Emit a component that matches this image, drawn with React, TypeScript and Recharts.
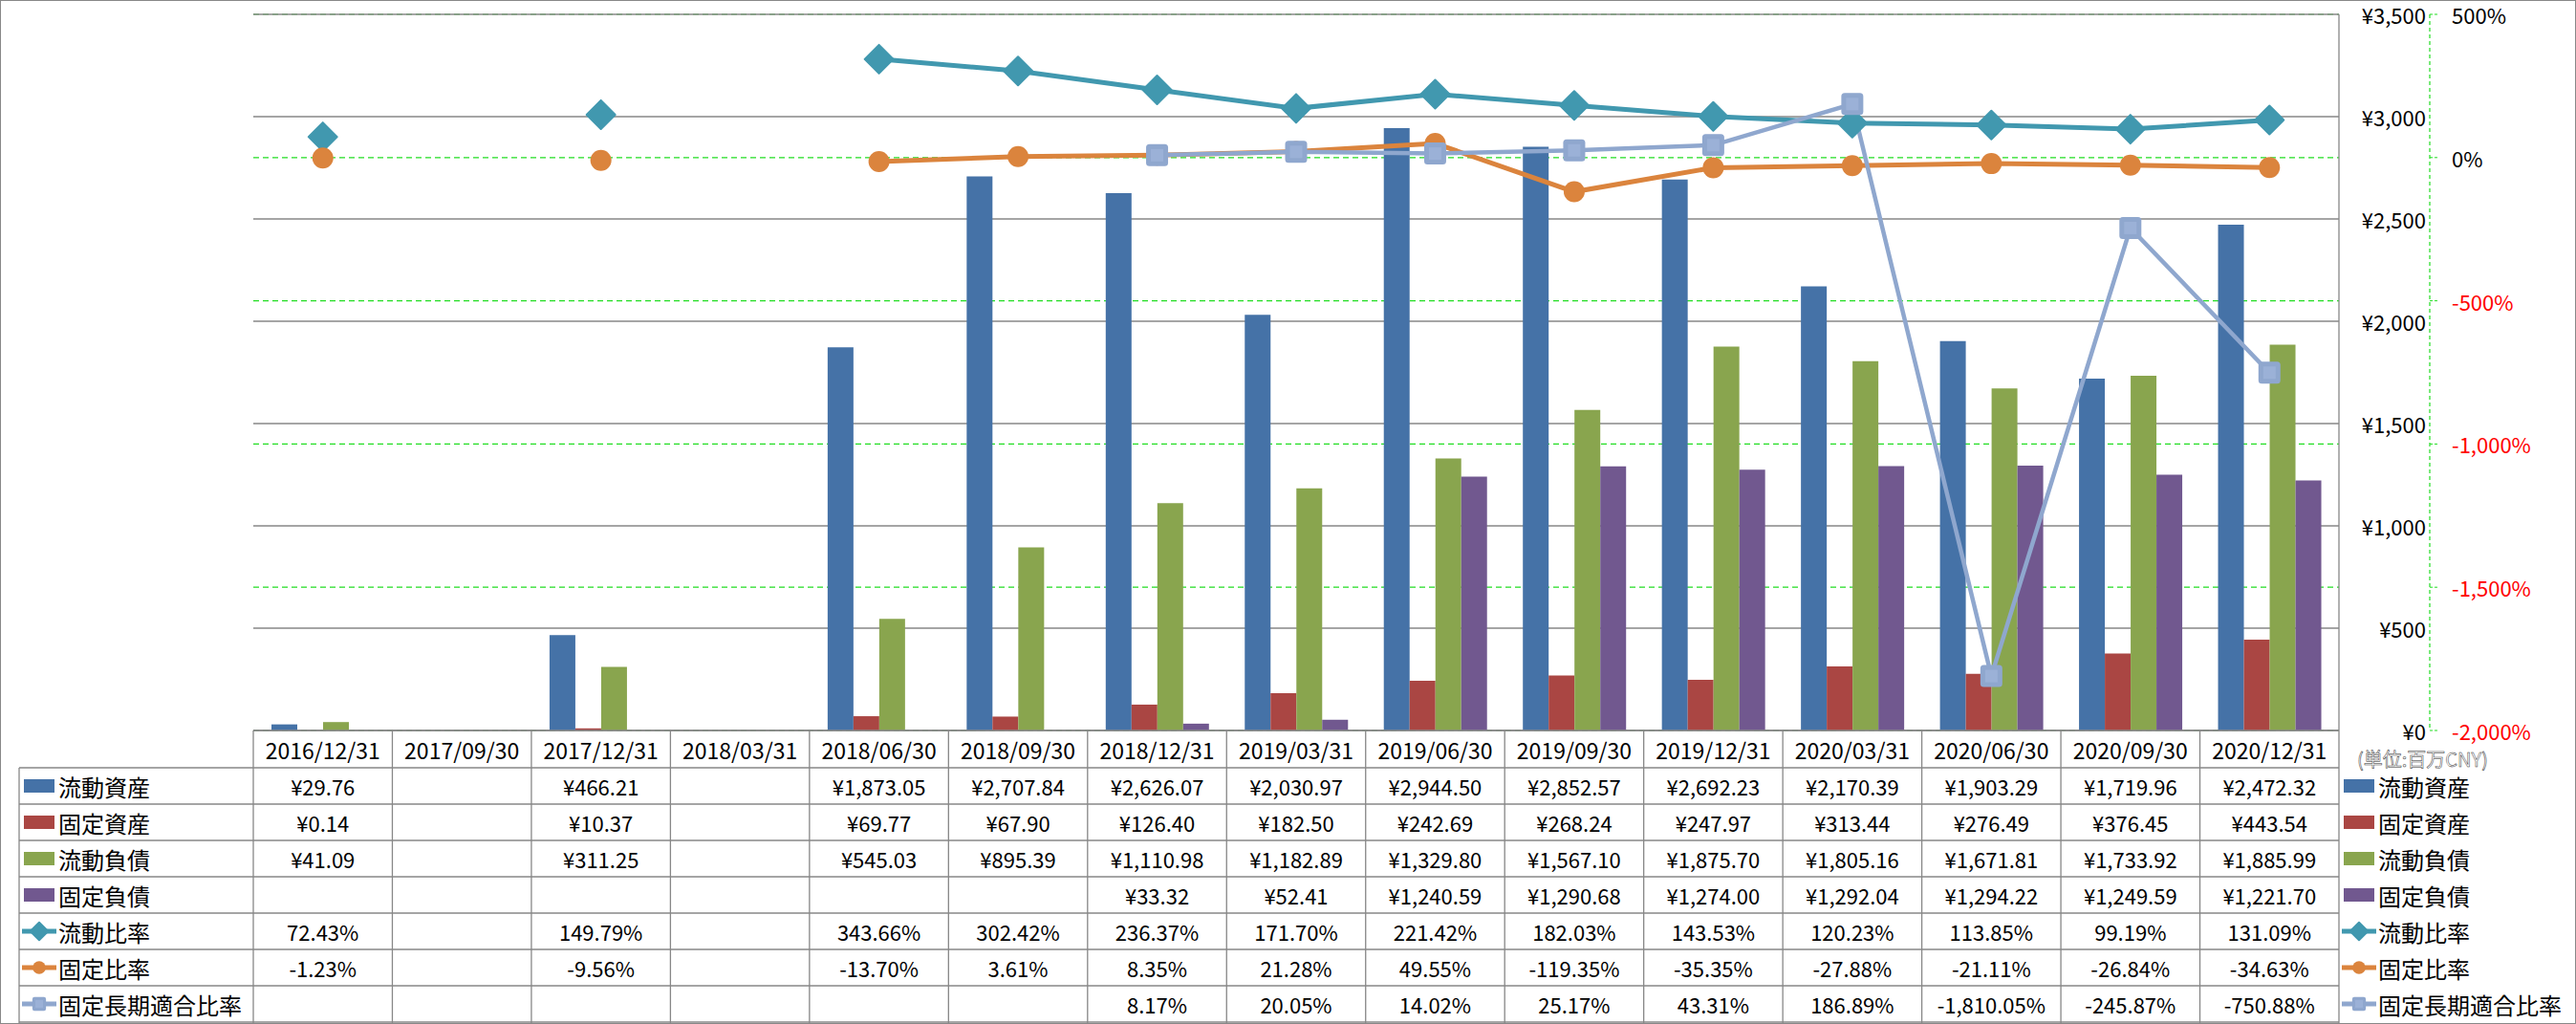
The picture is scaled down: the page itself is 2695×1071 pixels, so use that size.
import React from "react";
import { ComposedChart, Bar, Line, XAxis, YAxis, CartesianGrid } from "recharts";

const categories = [
  "2016/12/31", "2017/09/30", "2017/12/31", "2018/03/31", "2018/06/30",
  "2018/09/30", "2018/12/31", "2019/03/31", "2019/06/30", "2019/09/30",
  "2019/12/31", "2020/03/31", "2020/06/30", "2020/09/30", "2020/12/31",
];
const currentAssets = [29.76, null, 466.21, null, 1873.05, 2707.84, 2626.07, 2030.97, 2944.5, 2852.57, 2692.23, 2170.39, 1903.29, 1719.96, 2472.32];
const fixedAssets = [0.14, null, 10.37, null, 69.77, 67.9, 126.4, 182.5, 242.69, 268.24, 247.97, 313.44, 276.49, 376.45, 443.54];
const currentLiabilities = [41.09, null, 311.25, null, 545.03, 895.39, 1110.98, 1182.89, 1329.8, 1567.1, 1875.7, 1805.16, 1671.81, 1733.92, 1885.99];
const fixedLiabilities = [null, null, null, null, null, null, 33.32, 52.41, 1240.59, 1290.68, 1274.0, 1292.04, 1294.22, 1249.59, 1221.7];
const currentRatio = [72.43, null, 149.79, null, 343.66, 302.42, 236.37, 171.7, 221.42, 182.03, 143.53, 120.23, 113.85, 99.19, 131.09];
const fixedRatio = [-1.23, null, -9.56, null, -13.7, 3.61, 8.35, 21.28, 49.55, -119.35, -35.35, -27.88, -21.11, -26.84, -34.63];
const fixedLongTermRatio = [null, null, null, null, null, null, 8.17, 20.05, 14.02, 25.17, 43.31, 186.89, -1810.05, -245.87, -750.88];

const yenTicks = [0, 500, 1000, 1500, 2000, 2500, 3000, 3500];
const pctTicks = [-2000, -1500, -1000, -500, 0, 500];

type Series = {
  key: string;
  name: string;
  values: (number | null)[];
  color: string;
  kind: "bar" | "line";
  unit: "yen" | "pct";
  shape?: "diamond" | "circle" | "square";
};

const SERIES: Series[] = [
  { key: "ca", name: "流動資産", values: currentAssets, color: "#4572A7", kind: "bar", unit: "yen" },
  { key: "fa", name: "固定資産", values: fixedAssets, color: "#AA4643", kind: "bar", unit: "yen" },
  { key: "cl", name: "流動負債", values: currentLiabilities, color: "#89A54E", kind: "bar", unit: "yen" },
  { key: "fl", name: "固定負債", values: fixedLiabilities, color: "#71588F", kind: "bar", unit: "yen" },
  { key: "cr", name: "流動比率", values: currentRatio, color: "#4198AF", kind: "line", unit: "pct", shape: "diamond" },
  { key: "fr", name: "固定比率", values: fixedRatio, color: "#DB843D", kind: "line", unit: "pct", shape: "circle" },
  { key: "flr", name: "固定長期適合比率", values: fixedLongTermRatio, color: "#8FA7CE", kind: "line", unit: "pct", shape: "square" },
];

const data = categories.map((name, i) => {
  const row: any = { name };
  SERIES.forEach((s) => (row[s.key] = s.values[i]));
  return row;
});

// layout
const W = 2695;
const H = 1071;
const PLOT_LEFT = 265;
const PLOT_RIGHT = 2447;
const PLOT_TOP = 15;
const PLOT_BOTTOM = 764;
const HEADER_H = 39;
const ROW_H = 38;
const TABLE_LEFT = 20;
const YEN_AXIS_W = 95;
const FONT = "'Noto Sans CJK JP', 'Noto Sans', sans-serif";
const GRID_GRAY = "#878787";
const GREEN = "#22dd22";

const rowCenter = (r: number) => PLOT_BOTTOM + HEADER_H + ROW_H * r + ROW_H / 2;

const fmt2 = (v: number) =>
  v.toLocaleString("en-US", { minimumFractionDigits: 2, maximumFractionDigits: 2 });
const fmtCell = (s: Series, v: number | null | undefined) => {
  if (v === null || v === undefined) return "";
  return s.unit === "yen" ? "¥" + fmt2(v) : fmt2(v) + "%";
};

const Marker = ({ shape, cx, cy, color, scale = 1 }: any) => {
  if (shape === "diamond") {
    const s = 15 * scale;
    return (
      <path
        d={`M${cx},${cy - s}L${cx + s},${cy}L${cx},${cy + s}L${cx - s},${cy}Z`}
        fill={color}
        stroke={color}
        strokeWidth={2}
        strokeLinejoin="round"
      />
    );
  }
  if (shape === "circle") {
    return <circle cx={cx} cy={cy} r={11 * scale} fill={color} />;
  }
  const s = 23 * scale;
  const inner = 13 * scale;
  return (
    <g>
      <rect x={cx - s / 2} y={cy - s / 2} width={s} height={s} rx={3.5 * scale} fill={color} />
      <rect x={cx - inner / 2} y={cy - inner / 2} width={inner} height={inner} fill="#9bb1d7" />
    </g>
  );
};

const makeDot = (s: Series) => (props: any) => {
  const { cx, cy, value, index } = props;
  if (value === null || value === undefined || cx == null || cy == null) {
    return <g key={`${s.key}-dot-${index}`} />;
  }
  return (
    <g key={`${s.key}-dot-${index}`}>
      <Marker shape={s.shape} cx={cx} cy={cy} color={s.color} />
    </g>
  );
};

// one table column per category, drawn as the x axis tick
const TableColumn = (props: any) => {
  const { x, y, payload } = props;
  const i = payload.index;
  const band = (PLOT_RIGHT - PLOT_LEFT) / categories.length;
  const left = x - band / 2;
  return (
    <g>
      <line x1={left} x2={left} y1={y} y2={H - 1} stroke={GRID_GRAY} strokeWidth={1.3} />
      {i === categories.length - 1 && (
        <line x1={left + band} x2={left + band} y1={y} y2={H - 1} stroke={GRID_GRAY} strokeWidth={1.3} />
      )}
      <text
        x={x}
        y={y + HEADER_H / 2}
        dominantBaseline="central"
        textAnchor="middle"
        fontSize={23}
        fontFamily={FONT}
        fill="#000"
      >
        {payload.value}
      </text>
      {SERIES.map((s, r) => (
        <text
          key={s.key}
          x={x}
          y={rowCenter(r)}
          dominantBaseline="central"
          textAnchor="middle"
          fontSize={22}
          fontFamily={FONT}
          fill="#000"
        >
          {fmtCell(s, s.values[i])}
        </text>
      ))}
    </g>
  );
};

const YenTick = (props: any) => {
  const { x, y, payload } = props;
  return (
    <text x={x + 91} y={y} dominantBaseline="central" textAnchor="end" fontSize={22} fontFamily={FONT} fill="#000">
      {"¥" + payload.value.toLocaleString("en-US")}
    </text>
  );
};

const PctTick = (props: any) => {
  const { x, y, payload } = props;
  return (
    <text
      x={x}
      y={y}
      dominantBaseline="central"
      textAnchor="start"
      fontSize={22}
      fontFamily={FONT}
      fill={payload.value < 0 ? "#ff0000" : "#000"}
    >
      {payload.value.toLocaleString("en-US") + "%"}
    </text>
  );
};

const LegendKey = ({ s, x, cy }: { s: Series; x: number; cy: number }) => {
  if (s.kind === "bar") {
    return <rect x={x + 2} y={cy - 7} width={32} height={14} fill={s.color} />;
  }
  return (
    <g>
      <line x1={x} x2={x + 36} y1={cy} y2={cy} stroke={s.color} strokeWidth={5} />
      <Marker shape={s.shape} cx={x + 18} cy={cy} color={s.color} scale={0.62} />
    </g>
  );
};

const Overlay = () => (
  <svg width={W} height={H} style={{ position: "absolute", left: 0, top: 0, pointerEvents: "none" }}>
    {/* table horizontal rules and left border */}
    {SERIES.map((s, r) => (
      <line
        key={s.key}
        x1={TABLE_LEFT}
        x2={PLOT_RIGHT}
        y1={PLOT_BOTTOM + HEADER_H + ROW_H * r}
        y2={PLOT_BOTTOM + HEADER_H + ROW_H * r}
        stroke={GRID_GRAY}
        strokeWidth={1.3}
      />
    ))}
    <line x1={TABLE_LEFT} x2={PLOT_RIGHT} y1={H - 2} y2={H - 2} stroke={GRID_GRAY} strokeWidth={1.3} />
    <line x1={TABLE_LEFT} x2={TABLE_LEFT} y1={PLOT_BOTTOM + HEADER_H} y2={H - 1} stroke={GRID_GRAY} strokeWidth={1.3} />
    {/* row labels */}
    {SERIES.map((s, r) => (
      <g key={s.key}>
        <LegendKey s={s} x={TABLE_LEFT + 3} cy={rowCenter(r)} />
        <text x={61} y={rowCenter(r)} dominantBaseline="central" fontSize={24} fontFamily={FONT} fill="#000">
          {s.name}
        </text>
      </g>
    ))}
    {/* right legend */}
    <text
      x={2466}
      y={793}
      dominantBaseline="central"
      fontSize={20}
      fontFamily={FONT}
      fill="#fff"
      stroke="#333"
      strokeWidth={0.5}
    >
      (単位:百万CNY)
    </text>
    {SERIES.map((s, r) => (
      <g key={s.key}>
        <LegendKey s={s} x={2450} cy={rowCenter(r)} />
        <text x={2488} y={rowCenter(r)} dominantBaseline="central" fontSize={24} fontFamily={FONT} fill="#000">
          {s.name}
        </text>
      </g>
    ))}
  </svg>
);

export default function App() {
  return (
    <div
      style={{
        position: "absolute",
        left: 0,
        top: 0,
        width: W,
        height: H,
        background: "#fff",
        border: "1px solid #888",
        boxSizing: "border-box",
        fontFamily: FONT,
      }}
    >
      <div style={{ position: "absolute", left: -1, top: -1 }}>
        <ComposedChart
          width={W}
          height={H}
          data={data}
          margin={{ top: PLOT_TOP, right: 0, left: PLOT_LEFT, bottom: 0 }}
          barCategoryGap={19}
          barGap={0}
        >
          <CartesianGrid yAxisId="b_pct" vertical={false} stroke={GREEN} strokeDasharray="6 4" strokeWidth={1.2} />
          <CartesianGrid yAxisId="a_yen" vertical={false} stroke={GRID_GRAY} strokeWidth={1.3} />
          <XAxis
            dataKey="name"
            height={H - PLOT_BOTTOM}
            interval={0}
            tickLine={false}
            tickSize={0}
            tickMargin={0}
            axisLine={{ stroke: GRID_GRAY, strokeWidth: 1.3 }}
            tick={<TableColumn />}
          />
          <YAxis
            yAxisId="b_pct"
            orientation="right"
            width={W - PLOT_RIGHT - YEN_AXIS_W}
            domain={[-2000, 500]}
            ticks={pctTicks}
            tickSize={8}
            tickMargin={15}
            tickLine={{ stroke: GREEN, strokeDasharray: "3 2" }}
            axisLine={{ stroke: GREEN, strokeDasharray: "4 3", strokeWidth: 1.2 }}
            tick={<PctTick />}
          />
          <YAxis
            yAxisId="a_yen"
            orientation="right"
            width={YEN_AXIS_W}
            domain={[0, 3500]}
            ticks={yenTicks}
            tickLine={false}
            tickSize={0}
            tickMargin={0}
            axisLine={{ stroke: GRID_GRAY, strokeWidth: 1.3 }}
            tick={<YenTick />}
          />
          {SERIES.filter((s) => s.kind === "bar").map((s) => (
            <Bar key={s.key} dataKey={s.key} name={s.name} yAxisId="a_yen" fill={s.color} isAnimationActive={false} />
          ))}
          {SERIES.filter((s) => s.kind === "line").map((s) => (
            <Line
              key={s.key}
              type="linear"
              dataKey={s.key}
              name={s.name}
              yAxisId="b_pct"
              stroke={s.color}
              strokeWidth={s.shape === "square" ? 4.5 : 5}
              dot={makeDot(s)}
              activeDot={false}
              isAnimationActive={false}
            />
          ))}
        </ComposedChart>
      </div>
      <div style={{ position: "absolute", left: -1, top: -1 }}>
        <Overlay />
      </div>
    </div>
  );
}
